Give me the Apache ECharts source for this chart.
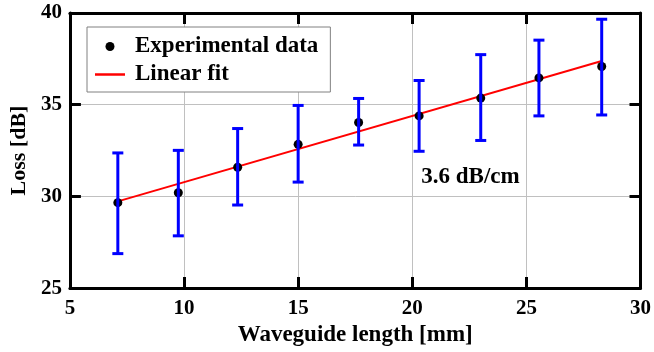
<!DOCTYPE html>
<html>
<head>
<meta charset="utf-8">
<script src="https://cdn.jsdelivr.net/npm/echarts@6/dist/echarts.min.js"></script>
<style>
html,body{margin:0;padding:0;background:#fff;}
#chart{width:654px;height:352px;}
</style>
</head>
<body>
<div id="chart"></div>
<script>
// Data
const lengthMM = [7.1, 9.75, 12.35, 15.0, 17.65, 20.3, 23.0, 25.55, 28.3];
const lossDB   = [29.66, 30.2, 31.59, 32.84, 34.03, 34.39, 35.36, 36.46, 37.08];
const errLow   = [26.88, 27.85, 29.53, 30.78, 32.8, 32.46, 33.05, 34.39, 34.44];
const errHigh  = [32.37, 32.51, 33.70, 34.96, 35.34, 36.32, 37.73, 38.52, 39.66];
const fitX = [7.1, 28.3];
const fitY = [29.73, 37.38];
const seriesNames = ['Experimental data', 'Linear fit'];
const annotationText = '3.6 dB/cm';
const annotationPos = [22.55, 31.07];
const xTicks = {min: 5, max: 30, interval: 5};
const yTicks = {min: 25, max: 40, interval: 5};

const FONT = 'Liberation Serif';
const chart = echarts.init(document.getElementById('chart'), null, {renderer: 'canvas'});

const scatterData = lengthMM.map((x, i) => [x, lossDB[i]]);
const errData = lengthMM.map((x, i) => [x, errLow[i], errHigh[i]]);
const fitData = fitX.map((x, i) => [x, fitY[i]]);

const tickStyle = {show: true, inside: true, length: 11, lineStyle: {color: '#000', width: 3}};
const lineStyleAxis = {show: true, onZero: false, lineStyle: {color: '#000', width: 3}};

const option = {
  animation: false,
  backgroundColor: '#fff',
  grid: {left: 68, right: 11, top: 13, bottom: 62, containLabel: false},
  legend: {
    data: [
      {name: seriesNames[0], icon: 'circle', itemStyle: {color: '#000', opacity: 1}},
      {name: seriesNames[1], icon: 'path://M0,0L30,0L30,2.5L0,2.5Z', itemStyle: {color: '#ff0000'}}
    ],
    orient: 'vertical',
    left: 87, top: 27,
    padding: [8, 12, 6, 8],
    itemGap: 5,
    itemWidth: 30, itemHeight: 9,
    symbolKeepAspect: true,
    backgroundColor: '#fff',
    borderColor: '#808080', borderWidth: 1, borderRadius: 0,
    selectedMode: false,
    textStyle: {fontFamily: FONT, fontWeight: 'bold', fontSize: 23, color: '#000', padding: [0, 0, 0, 5]}
  },
  xAxis: [{
    type: 'value', position: 'bottom',
    min: xTicks.min, max: xTicks.max, interval: xTicks.interval,
    name: 'Waveguide length [mm]', nameLocation: 'middle', nameGap: 29,
    nameTextStyle: {fontFamily: FONT, fontWeight: 'bold', fontSize: 23, color: '#000'},
    axisLine: lineStyleAxis, axisTick: tickStyle,
    axisLabel: {margin: 10, fontFamily: FONT, fontWeight: 'bold', fontSize: 21, color: '#000'},
    splitLine: {show: true, lineStyle: {color: '#c0c0c0', width: 1}}
  }, {
    type: 'value', position: 'top',
    min: xTicks.min, max: xTicks.max, interval: xTicks.interval,
    axisLine: lineStyleAxis, axisTick: tickStyle,
    axisLabel: {show: false}, splitLine: {show: false}
  }],
  yAxis: [{
    type: 'value', position: 'left',
    min: yTicks.min, max: yTicks.max, interval: yTicks.interval,
    name: 'Loss [dB]', nameLocation: 'middle', nameGap: 33, nameRotate: 90,
    nameTextStyle: {fontFamily: FONT, fontWeight: 'bold', fontSize: 22, color: '#000'},
    axisLine: lineStyleAxis, axisTick: tickStyle,
    axisLabel: {margin: 8, fontFamily: FONT, fontWeight: 'bold', fontSize: 21, color: '#000'},
    splitLine: {show: true, lineStyle: {color: '#c0c0c0', width: 1}}
  }, {
    type: 'value', position: 'right',
    min: yTicks.min, max: yTicks.max, interval: yTicks.interval,
    axisLine: lineStyleAxis, axisTick: tickStyle,
    axisLabel: {show: false}, splitLine: {show: false}
  }],
  series: [{
    name: seriesNames[1], type: 'line', data: fitData,
    xAxisIndex: 0, yAxisIndex: 0,
    showSymbol: false, symbol: 'none',
    lineStyle: {color: '#ff0000', width: 2},
    itemStyle: {color: '#ff0000'},
    z: 2
  }, {
    name: seriesNames[0], type: 'scatter', data: scatterData,
    xAxisIndex: 0, yAxisIndex: 0,
    symbol: 'circle', symbolSize: 9,
    itemStyle: {color: '#000', opacity: 1},
    z: 3
  }, {
    name: 'errorbars', type: 'custom', data: errData,
    xAxisIndex: 0, yAxisIndex: 0,
    z: 4,
    renderItem: function (params, api) {
      const x = api.value(0);
      const lo = api.coord([x, api.value(1)]);
      const hi = api.coord([x, api.value(2)]);
      const hw = 5.5;
      const st = {stroke: '#0000ff', lineWidth: 3};
      return {
        type: 'group',
        children: [
          {type: 'line', shape: {x1: lo[0], y1: lo[1], x2: hi[0], y2: hi[1]}, style: st},
          {type: 'line', shape: {x1: hi[0] - hw, y1: hi[1], x2: hi[0] + hw, y2: hi[1]}, style: st},
          {type: 'line', shape: {x1: lo[0] - hw, y1: lo[1], x2: lo[0] + hw, y2: lo[1]}, style: st}
        ]
      };
    }
  }]
};
chart.setOption(option);

const p = chart.convertToPixel({xAxisIndex: 0, yAxisIndex: 0}, annotationPos);
chart.setOption({
  graphic: [{
    type: 'text', x: p[0], y: p[1], z: 10,
    style: {text: annotationText, fill: '#000', font: 'bold 23px "' + FONT + '"', align: 'center', verticalAlign: 'middle'}
  }]
});
</script>
</body>
</html>
